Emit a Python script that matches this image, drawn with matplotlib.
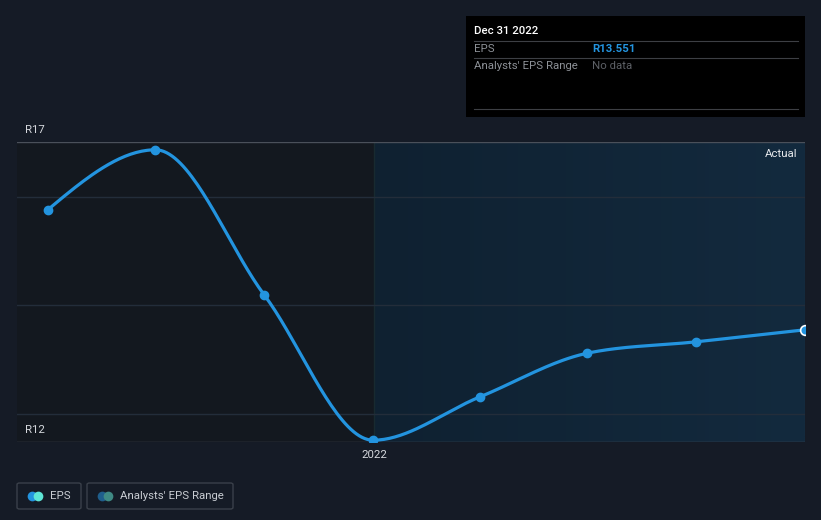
from datetime import datetime

import matplotlib
matplotlib.use('Agg')
import matplotlib.dates as mdates
import matplotlib.pyplot as plt
import numpy as np
from matplotlib.patches import FancyBboxPatch, Rectangle

# EPS, quarterly (R)
dates = [datetime(2021, 3, 31), datetime(2021, 6, 30), datetime(2021, 9, 30),
         datetime(2021, 12, 31), datetime(2022, 3, 31), datetime(2022, 6, 30),
         datetime(2022, 9, 30), datetime(2022, 12, 31)]
eps = [15.87, 16.87, 14.45, 12.03, 12.75, 13.48, 13.67, 13.87]
grid_levels = [16.08, 14.28, 12.47]
y_min, y_max = 12, 17
y_labels = ['R12', 'R17']
x_tick = datetime(2022, 1, 1)
x_tick_label = '2022'

W, H = 821, 520
BG = '#151b26'
BLUE = '#2394df'

plt.rcParams['font.family'] = ['Roboto', 'DejaVu Sans']


def fx(px):
    return px / W


def fy(py):
    return 1 - py / H


def monotone_x(x, y, n=40):
    # d3 curveMonotoneX style tangents
    x = np.asarray(x, float)
    y = np.asarray(y, float)
    h = np.diff(x)
    s = np.diff(y) / h
    t = np.zeros_like(y)
    for i in range(1, len(y) - 1):
        p = (s[i - 1] * h[i] + s[i] * h[i - 1]) / (h[i - 1] + h[i])
        t[i] = (np.sign(s[i - 1]) + np.sign(s[i])) * min(abs(s[i - 1]), abs(s[i]), 0.5 * abs(p))
    t[0] = (3 * s[0] - t[1]) / 2
    t[-1] = (3 * s[-1] - t[-2]) / 2
    xs, ys = [], []
    for i in range(len(h)):
        u = np.linspace(0, 1, n)
        h00 = 2 * u**3 - 3 * u**2 + 1
        h10 = u**3 - 2 * u**2 + u
        h01 = -2 * u**3 + 3 * u**2
        h11 = u**3 - u**2
        xs.append(x[i] + u * h[i])
        ys.append(h00 * y[i] + h10 * h[i] * t[i] + h01 * y[i + 1] + h11 * h[i] * t[i + 1])
    return np.concatenate(xs), np.concatenate(ys)


fig = plt.figure(figsize=(W / 100, H / 100), dpi=100, facecolor=BG)
ax = fig.add_axes([fx(17), fy(442), fx(805) - fx(17), (442 - 142) / H])
ax.set_facecolor('#13181f')

xn = mdates.date2num(dates)
x_left = xn[0] - 26
x_split = mdates.date2num(x_tick)
x_right = xn[-1]
ax.set_xlim(x_left, x_right)
ax.set_ylim(y_min, y_max)

# actual region with gradient
grad = np.linspace(0, 1, 256).reshape(1, -1)
cmap = matplotlib.colors.LinearSegmentedColormap.from_list('g', ['#0f2131', '#132a3e'])
ax.imshow(grad, extent=[x_split, x_right, y_min, y_max], aspect='auto', cmap=cmap, zorder=0)
ax.axvline(x_split, color='#182a30', lw=1, zorder=1)

for g in grid_levels:
    ax.axhline(g, color='#232d3a', lw=1, zorder=1)
ax.axhline(y_max, color='#4a505a', lw=1, zorder=2)
ax.axhline(y_min, color='#4a505a', lw=1, zorder=2)

sx, sy = monotone_x(xn, eps)
ax.plot(sx, sy, color=BLUE, lw=2.3, zorder=4, solid_capstyle='round')
ax.plot(xn[:-1], eps[:-1], 'o', color=BLUE, ms=6, zorder=5)
ax.plot(xn[-1:], eps[-1:], 'o', color=BLUE, ms=7, mec='white', mew=1.2, zorder=6, clip_on=True)

for s in ax.spines.values():
    s.set_visible(False)
ax.set_xticks([])
ax.set_yticks([])

# axis labels
fig.text(fx(25), fy(130), y_labels[1], color='#d5d8dd', fontsize=8.2, va='center', ha='left')
fig.text(fx(25), fy(430), y_labels[0], color='#d5d8dd', fontsize=8.2, va='center', ha='left')
fig.text(fx(374), fy(455), x_tick_label, color='#d5d8dd', fontsize=8.2, va='center', ha='center')
fig.text(fx(797), fy(154), 'Actual', color='#e6e8eb', fontsize=8.2, va='center', ha='right')

# tooltip
fig.patches.append(Rectangle((fx(466), fy(117)), fx(805) - fx(466), (117 - 16) / H,
                             transform=fig.transFigure, facecolor='black', edgecolor='none'))
for ly in [41, 58, 109]:
    fig.add_artist(plt.Line2D([fx(474), fx(798)], [fy(ly), fy(ly)], color='#3d3f44', lw=0.8))
fig.text(fx(474), fy(31), 'Dec 31 2022', color='white', fontsize=8.2, va='center', ha='left',
         weight='medium')
fig.text(fx(474), fy(49), 'EPS', color='#8d9197', fontsize=8.2, va='center', ha='left')
fig.text(fx(592), fy(49), 'R13.551', color=BLUE, fontsize=8.2, va='center', ha='left', weight='bold')
fig.text(fx(474), fy(66), "Analysts' EPS Range", color='#8d9197', fontsize=8.2, va='center', ha='left')
fig.text(fx(592), fy(66), 'No data', color='#5d6066', fontsize=8.2, va='center', ha='left')

# legend
for (x0, x1) in [(17, 81), (87, 233)]:
    fig.patches.append(FancyBboxPatch((fx(x0), fy(509)), fx(x1) - fx(x0), 26 / H,
                                      boxstyle='round,pad=0,rounding_size=0.003',
                                      transform=fig.transFigure, facecolor='none',
                                      edgecolor='#3a404a', lw=1))
for (cx, col) in [(32, BLUE), (38, '#5ee6d6'), (102, '#1f5e8c'), (108, '#3f8a84')]:
    fig.add_artist(plt.Line2D([fx(cx)], [fy(496)], marker='o', ms=7, color=col, mew=0))
fig.text(fx(50), fy(496), 'EPS', color='#c8ccd2', fontsize=8.2, va='center', ha='left')
fig.text(fx(120), fy(496), "Analysts' EPS Range", color='#c8ccd2', fontsize=8.2, va='center', ha='left')

fig.savefig('out.png', dpi=100, facecolor=BG)
